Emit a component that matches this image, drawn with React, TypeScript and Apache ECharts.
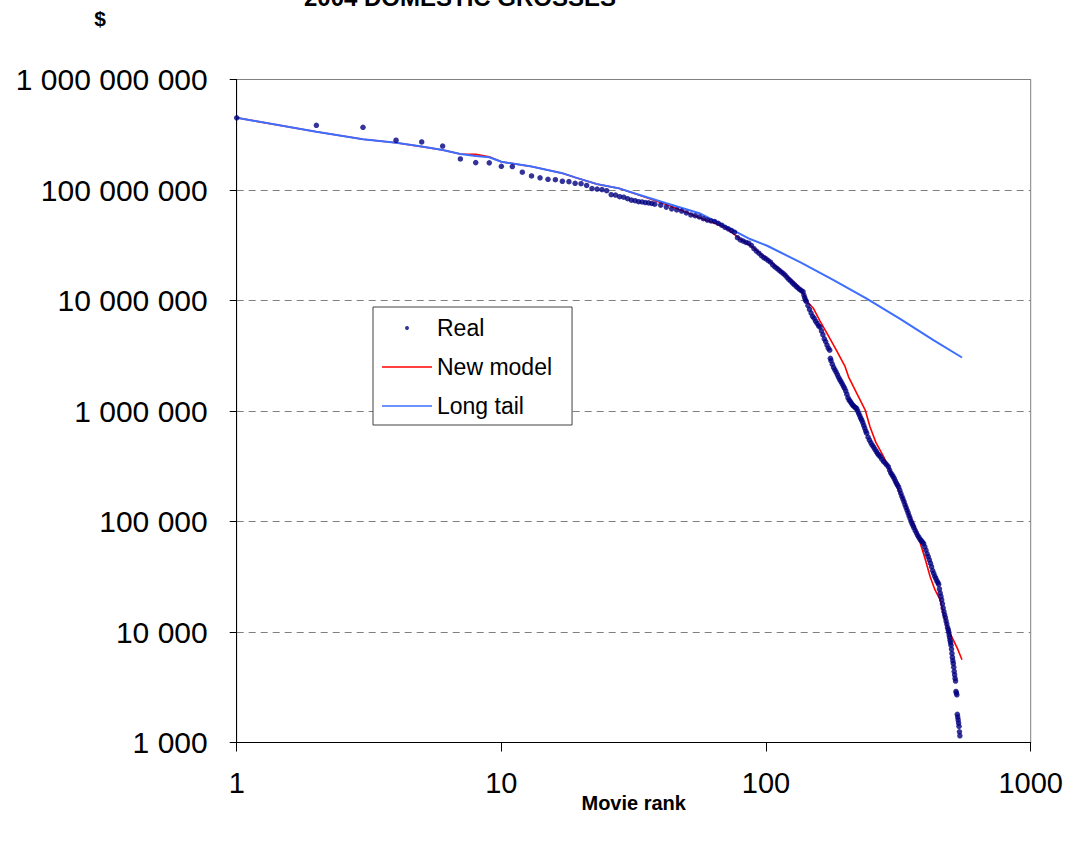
import React, { useEffect, useRef } from "react";
import * as echarts from "echarts";

// ---- Data ----
const TITLE = "2004 DOMESTIC GROSSES";
const Y_UNIT = "$";
const X_NAME = "Movie rank";
const SERIES_NAMES = ["Real", "New model", "Long tail"];

// Real grosses: top ranks read one by one
const REAL_TOP: [number, number][] = [
  [1, 450e6], [2, 385e6], [3, 369e6], [4, 282e6], [5, 272e6], [6, 250e6],
  [7, 191e6], [8, 177e6], [9, 176e6], [10, 164e6], [11, 163e6], [12, 145e6],
  [13, 134e6], [14, 129e6], [15, 125e6], [16, 124e6], [17, 120e6], [18, 119e6],
  [19, 115e6], [20, 114e6], [21, 110e6], [22, 103e6], [23, 102e6], [24, 101e6],
  [25, 98.6e6], [26, 90.7e6], [27, 90e6], [28, 87e6], [29, 86e6], [30, 83.4e6],
  [31, 81e6], [32, 80e6], [33, 78.3e6], [34, 78e6],
];

// Real grosses: middle ranks
const REAL_MID: [number, number][] = [
  [35, 77e6], [36, 76.5e6], [37, 75.5e6], [38, 74.5e6], [40, 73e6], [42, 70e6],
  [44, 67.5e6], [46, 66e6], [48, 64.5e6], [50, 62e6], [52, 59.5e6], [54, 58.5e6],
  [56, 57e6], [58, 55e6], [60, 53.5e6], [62, 52.5e6], [64, 51.8e6], [66, 50e6],
  [68, 48e6], [70, 46e6], [72, 44.5e6], [74, 43e6], [76, 41.5e6], [78, 37e6],
  [80, 35.3e6], [82, 34.5e6], [84, 33.5e6], [86, 33e6], [88, 31.5e6], [90, 29.5e6],
  [92, 28e6], [94, 26.8e6], [96, 25.5e6], [98, 24.5e6], [100, 23.8e6], [102, 23e6],
  [104, 22.2e6], [106, 21e6], [108, 20.2e6], [110, 19.5e6], [112, 18.8e6], [114, 18.2e6],
  [116, 17.6e6], [118, 17e6], [120, 16.2e6], [122, 15.5e6], [124, 15e6], [126, 14.4e6],
  [128, 13.9e6], [130, 13.4e6], [132, 13e6], [134, 12.6e6], [136, 12.3e6], [138, 12e6],
  [139, 11.2e6], [140, 10.6e6], [141, 10.1e6], [142, 9.8e6], [144, 9e6], [146, 8.3e6],
  [148, 7.7e6], [150, 7.2e6], [152, 6.9e6], [154, 6.5e6], [156, 6.2e6], [158, 5.9e6],
  [160, 5.75e6], [162, 5.3e6], [164, 4.9e6], [166, 4.5e6], [168, 4.25e6], [170, 3.95e6],
  [172, 3.7e6], [174, 3.55e6], [175, 3.0e6], [176, 2.85e6], [178, 2.65e6], [180, 2.48e6],
  [182, 2.36e6], [184, 2.25e6], [186, 2.13e6], [188, 2.02e6], [190, 1.92e6], [192, 1.84e6],
  [194, 1.76e6], [196, 1.68e6], [198, 1.61e6], [200, 1.52e6], [202, 1.42e6], [204, 1.32e6],
  [206, 1.26e6], [208, 1.22e6], [210, 1.18e6], [212, 1.14e6], [214, 1.11e6], [216, 1.09e6],
  [218, 1.07e6], [220, 1.05e6], [222, 1.0e6],
];

// Real grosses: tail ranks
const REAL_TAIL: [number, number][] = [
  [224, 950e3], [226, 905e3], [228, 860e3], [230, 825e3], [232, 785e3], [234, 740e3],
  [236, 700e3], [238, 660e3], [240, 630e3], [243, 580e3], [246, 545e3], [249, 515e3],
  [252, 490e3], [255, 472e3], [258, 450e3], [261, 430e3], [264, 412e3], [267, 398e3],
  [270, 386e3], [274, 366e3], [278, 350e3], [282, 338e3], [286, 325e3], [290, 312e3],
  [293, 292e3], [296, 276e3], [299, 266e3], [302, 256e3], [305, 245e3], [308, 233e3],
  [311, 222e3], [314, 213e3], [317, 205e3], [320, 192e3], [323, 180e3], [326, 169e3],
  [329, 160e3], [332, 151e3], [335, 142e3], [338, 134e3], [341, 127e3], [344, 120e3],
  [347, 113e3], [350, 107e3], [353, 101e3], [356, 96e3], [359, 92e3], [362, 88e3],
  [366, 83e3], [370, 79e3], [374, 75e3], [378, 72e3], [382, 69e3], [386, 67e3],
  [390, 65e3], [394, 63e3], [398, 59e3], [402, 55e3], [406, 51e3], [410, 48e3],
  [414, 45e3], [418, 42e3], [422, 39e3], [426, 36e3], [430, 34e3], [434, 32e3],
  [438, 30.5e3], [442, 29e3], [446, 28e3], [449, 27e3], [452, 24.5e3], [455, 22.5e3],
  [458, 21e3], [461, 19.5e3], [464, 18e3], [467, 16.5e3], [470, 15.3e3], [473, 14.3e3],
  [476, 13.5e3], [479, 12.6e3], [482, 11.8e3], [485, 11e3], [488, 10.5e3], [490, 10e3],
  [492, 9.4e3], [494, 8.9e3], [496, 8.4e3], [498, 8e3], [500, 7.6e3], [502, 7e3],
  [504, 6.4e3], [506, 5.9e3], [508, 5.5e3], [510, 5.2e3], [512, 4.8e3], [514, 4.4e3],
  [516, 4.1e3], [518, 3.8e3], [520, 3.6e3], [522, 2.9e3], [524, 2.8e3], [526, 2.7e3],
  [528, 1.8e3], [530, 1.7e3], [532, 1.6e3], [534, 1.5e3], [536, 1.4e3], [538, 1.25e3],
  [540, 1.15e3],
];

// New model curve
const NEW_MODEL: [number, number][] = [
  [1, 450e6], [2, 337e6], [3, 288e6], [4, 268e6], [5, 247e6], [6, 230e6], [7, 212e6],
  [8, 210e6], [9, 200e6], [10, 180e6], [13, 163e6], [17, 142e6], [19, 130e6], [23, 113e6],
  [28, 103e6], [35, 86e6], [42, 74e6], [50, 63e6], [56, 56e6], [64, 50e6], [70, 46e6],
  [75, 40.5e6], [80, 36e6], [88, 31e6], [95, 26.7e6], [105, 22e6], [113, 18.9e6],
  [122, 16e6], [131, 13.8e6], [140, 11e6], [143, 9.8e6], [151, 8.5e6], [160, 6.5e6],
  [170, 5.05e6], [185, 3.5e6], [199, 2.52e6], [205, 2.04e6], [220, 1.45e6], [237, 1.02e6],
  [247, 721e3], [260, 520e3], [278, 386e3], [290, 313e3], [305, 235e3], [321, 180e3],
  [335, 150e3], [345, 119e3], [365, 90e3], [384, 62e3], [400, 45e3], [417, 31.6e3],
  [435, 24e3], [455, 19.5e3], [470, 14e3], [489, 10.4e3], [500, 9.3e3], [510, 8.5e3],
  [530, 7e3], [550, 5.6e3],
];

// Long tail curve
const LONG_TAIL: [number, number][] = [
  [1, 450e6], [2, 337e6], [3, 288e6], [4, 268e6], [5, 247e6], [6, 230e6], [7, 212e6],
  [8, 203e6], [9, 198e6], [10, 180e6], [13, 163e6], [17, 142e6], [19, 130e6], [23, 113e6],
  [28, 103e6], [35, 87e6], [42, 75.8e6], [56, 61.6e6], [75, 43.4e6], [87, 36e6],
  [101, 31.3e6], [135, 22.1e6], [180, 15.3e6], [240, 10.4e6], [321, 6.83e6],
  [429, 4.38e6], [550, 3.05e6],
];

const Y_MIN = 1000;
const Y_MAX = 1e9;
const X_MIN = 1;
const X_MAX = 1000;

const FONT = '"Liberation Sans", Arial, Helvetica, sans-serif';

function spaced(v: number): string {
  const n = Math.round(v);
  return String(n).replace(/\B(?=(\d{3})+(?!\d))/g, " ");
}

const LINE_ICON = "path://M0,0L50,0L50,1.6L0,1.6Z";

export default function App() {
  const ref = useRef<HTMLDivElement>(null);

  useEffect(() => {
    if (!ref.current) return;
    const chart = echarts.init(ref.current, undefined, { renderer: "svg" });
    const realData = [...REAL_TOP, ...REAL_MID, ...REAL_TAIL];

    chart.setOption({
      animation: false,
      backgroundColor: "#ffffff",
      textStyle: { fontFamily: FONT },
      grid: {
        left: 236.7,
        right: 43.3,
        top: 79.5,
        bottom: 104.5,
        show: true,
        borderColor: "#808080",
        borderWidth: 1,
        backgroundColor: "transparent",
      },
      graphic: [
        {
          type: "text",
          x: 460,
          y: 9,
          style: {
            text: TITLE,
            font: `bold 24px ${FONT}`,
            fill: "#000",
            align: "center",
            verticalAlign: "bottom",
          },
        },
        {
          type: "text",
          x: 100,
          y: 18,
          style: {
            text: Y_UNIT,
            font: `bold 21px ${FONT}`,
            fill: "#000",
            align: "center",
            verticalAlign: "middle",
          },
        },
      ],
      legend: {
        orient: "vertical",
        left: 373,
        top: 307,
        padding: [9, 20, 7, 9],
        itemWidth: 50,
        itemHeight: 4,
        itemGap: 15,
        backgroundColor: "#ffffff",
        borderColor: "#404040",
        borderWidth: 1,
        borderRadius: 0,
        textStyle: { fontSize: 23, lineHeight: 24, color: "#000", fontFamily: FONT },
        data: [
          { name: SERIES_NAMES[0], icon: "circle" },
          { name: SERIES_NAMES[1], icon: LINE_ICON },
          { name: SERIES_NAMES[2], icon: LINE_ICON },
        ],
      },
      xAxis: {
        type: "log",
        logBase: 10,
        min: X_MIN,
        max: X_MAX,
        name: X_NAME,
        nameLocation: "middle",
        nameGap: 50,
        nameMoveOverlap: false,
        nameTextStyle: { fontSize: 20, fontWeight: "bold", color: "#000", fontFamily: FONT },
        axisLine: { show: true, lineStyle: { color: "#000", width: 1 } },
        axisTick: { show: true, inside: false, length: 9, lineStyle: { color: "#000" } },
        minorTick: { show: false },
        axisLabel: {
          fontSize: 29,
          color: "#000",
          margin: 26,
          formatter: (v: number) => String(Math.round(v)),
        },
        splitLine: { show: false },
      },
      yAxis: {
        type: "log",
        logBase: 10,
        min: Y_MIN,
        max: Y_MAX,
        axisLine: { show: true, lineStyle: { color: "#000", width: 1 } },
        axisTick: { show: true, inside: false, length: 7, lineStyle: { color: "#000" } },
        minorTick: { show: false },
        axisLabel: {
          fontSize: 30,
          color: "#000",
          margin: 29,
          formatter: (v: number) => spaced(v),
        },
        splitLine: {
          show: true,
          lineStyle: { color: "#808080", type: [7, 5], width: 1 },
        },
      },
      series: [
        {
          name: SERIES_NAMES[0],
          type: "scatter",
          data: realData,
          symbol: "circle",
          symbolSize: 5.5,
          itemStyle: { color: "#000080" },
          z: 5,
        },
        {
          name: SERIES_NAMES[1],
          type: "line",
          data: NEW_MODEL,
          symbol: "none",
          showSymbol: false,
          lineStyle: { color: "#ff0000", width: 1.6 },
          itemStyle: { color: "#ff0000" },
          z: 3,
        },
        {
          name: SERIES_NAMES[2],
          type: "line",
          data: LONG_TAIL,
          symbol: "none",
          showSymbol: false,
          lineStyle: { color: "#3d6eff", width: 2 },
          itemStyle: { color: "#3d6eff" },
          z: 4,
        },
      ],
    });

    return () => chart.dispose();
  }, []);

  return (
    <div
      ref={ref}
      style={{ position: "fixed", left: 0, top: 0, width: 1074, height: 847 }}
    />
  );
}
